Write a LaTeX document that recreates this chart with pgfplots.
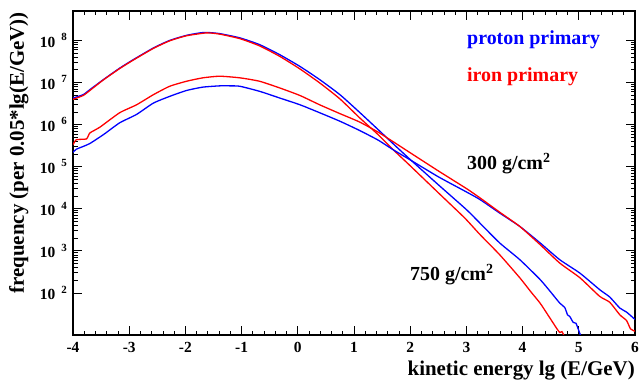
\documentclass[border=0pt]{standalone}
\usepackage{fontspec}
\setmainfont{Liberation Serif}
\usepackage{pgfplots}
\pgfplotsset{compat=1.18}
\newcommand{\tenp}[1]{10\hspace{6bp}\raisebox{6.5bp}{\fontsize{11}{11}\selectfont #1}}
\begin{document}
\begin{tikzpicture}
\useasboundingbox (-73bp,-45bp) rectangle (567bp,335bp);
\begin{axis}[
  scale only axis, width=562bp, height=324bp,
  at={(0,0)}, anchor=south west,
  ymode=log, xmin=-4, xmax=6, ymin=10, ymax=5e8,
  xtick={-4,-3,-2,-1,0,1,2,3,4,5,6},
  xticklabels={-4,-3,-2,-1,0,1,2,3,4,5,6},
  minor x tick num=4,
  ytick={1e2,1e3,1e4,1e5,1e6,1e7,1e8},
  yticklabels={\tenp{2},\tenp{3},\tenp{4},\tenp{5},\tenp{6},\tenp{7},\tenp{8}},
  tick align=inside,
  major tick length=9bp, minor tick length=4.5bp,
  axis line style={line width=1.2bp},
  every tick/.style={black, line width=0.8bp},
  xticklabel style={font=\fontsize{15.5}{15.5}\selectfont\bfseries, anchor=base, yshift=-18bp, inner sep=0pt},
  yticklabel style={font=\fontsize{15.5}{15.5}\selectfont\bfseries, anchor=east, inner sep=0pt, xshift=-6bp},
  every axis plot/.append style={line width=1.3bp, mark=none, smooth, tension=0.35},
]
% 750 g/cm2, proton
\addplot[blue] coordinates {
(-4.00,4.27e6) (-3.82,5.13e6) (-3.70,6.76e6) (-3.46,1.17e7) (-3.17,2.19e7) (-2.93,3.47e7)
(-2.57,6.61e7) (-2.28,1.00e8) (-1.98,1.32e8) (-1.74,1.51e8) (-1.62,1.55e8) (-1.39,1.45e8)
(-1.03,1.15e8) (-0.68,7.94e7) (-0.32,4.57e7) (0.04,2.40e7) (0.39,1.17e7) (0.75,5.13e6)
(1.10,1.95e6) (1.43,7.59e5) (1.70,3.47e5) (2.00,1.48e5) (2.50,3.72e4) (3.00,9.55e3)
(3.24,4.57e3) (3.59,1.55e3) (3.95,617) (4.31,209) (4.50,105) (4.66,57.5) (4.75,45) (4.80,30)
(4.84,27.5) (4.90,20) (4.95,19) (5.02,10.7) (5.05,8.9)};
% 750 g/cm2, iron
\addplot[red] coordinates {
(-4.00,3.98e6) (-3.82,4.90e6) (-3.70,6.46e6) (-3.46,1.15e7) (-3.17,2.14e7) (-2.93,3.39e7)
(-2.57,6.46e7) (-2.28,9.77e7) (-1.98,1.29e8) (-1.62,1.51e8) (-1.39,1.41e8) (-1.03,1.10e8)
(-0.68,7.41e7) (-0.32,4.17e7) (0.04,2.09e7) (0.39,9.77e6) (0.75,4.07e6) (1.10,1.45e6)
(1.43,5.75e5) (1.70,2.51e5) (2.00,1.05e5) (2.50,2.40e4) (2.97,6.03e3) (3.24,2.45e3)
(3.59,813) (3.95,229) (4.15,105) (4.31,57.5) (4.45,30) (4.60,14.8) (4.66,11.5) (4.70,12) (4.75,8.9)};
% 300 g/cm2, proton
\addplot[blue] coordinates {
(-4.00,2.19e5) (-3.94,2.6e5) (-3.82,3.02e5) (-3.70,3.55e5) (-3.46,5.75e5) (-3.17,1.10e6) (-2.87,1.74e6)
(-2.57,3.24e6) (-2.28,4.68e6) (-1.98,6.46e6) (-1.69,7.76e6) (-1.39,8.32e6) (-1.21,8.32e6)
(-1.03,8.13e6) (-0.68,6.17e6) (-0.32,4.27e6) (0.04,2.95e6) (0.39,1.91e6) (0.75,1.20e6)
(1.10,7.24e5) (1.43,4.27e5) (1.70,2.51e5) (2.00,1.45e5) (2.50,5.75e4) (3.00,2.51e4)
(3.24,1.66e4) (3.59,7.94e3) (3.95,3.80e3) (4.31,1.55e3) (4.66,617) (5.02,295) (5.37,120)
(5.55,80) (5.73,43.7) (5.85,35) (6.00,23.4)};
% 300 g/cm2, iron
\addplot[red] coordinates {
(-4.00,3.31e5) (-3.94,4.37e5) (-3.76,4.57e5) (-3.70,6.31e5) (-3.52,8.71e5) (-3.17,1.91e6)
(-2.87,2.95e6) (-2.57,5.13e6) (-2.28,8.13e6) (-1.98,1.07e7) (-1.69,1.29e7) (-1.39,1.41e7)
(-1.03,1.29e7) (-0.68,1.07e7) (-0.32,7.41e6) (0.04,4.90e6) (0.39,2.95e6) (0.75,1.82e6)
(1.10,1.15e6) (1.43,6.61e5) (1.70,3.89e5) (2.00,2.14e5) (2.50,7.94e4) (3.00,3.02e4)
(3.24,1.82e4) (3.59,8.32e3) (3.95,3.80e3) (4.31,1.41e3) (4.66,513) (5.02,229) (5.37,83.2)
(5.55,60) (5.73,30.2) (5.85,22) (5.92,14) (6.00,12.3)};
\end{axis}
\node[rotate=90, anchor=base east, inner sep=0pt, font=\fontsize{21}{21}\selectfont\bfseries] at (-49bp,323bp) {frequency (per 0.05*lg(E/GeV))};
\node[anchor=base east, inner sep=0pt, font=\fontsize{21}{21}\selectfont\bfseries] at (562bp,-40bp) {kinetic energy lg (E/GeV)};
\node[anchor=base west, inner sep=0pt, text=blue, font=\fontsize{20}{20}\selectfont\bfseries] at (394bp,290bp) {proton primary};
\node[anchor=base west, inner sep=0pt, text=red, font=\fontsize{20}{20}\selectfont\bfseries] at (394bp,253bp) {iron primary};
\node[anchor=base west, inner sep=0pt, font=\fontsize{20}{20}\selectfont\bfseries] at (394bp,165bp) {300 g/cm\textsuperscript{2}};
\node[anchor=base west, inner sep=0pt, font=\fontsize{20}{20}\selectfont\bfseries] at (337bp,54bp) {750 g/cm\textsuperscript{2}};
\end{tikzpicture}
\end{document}
